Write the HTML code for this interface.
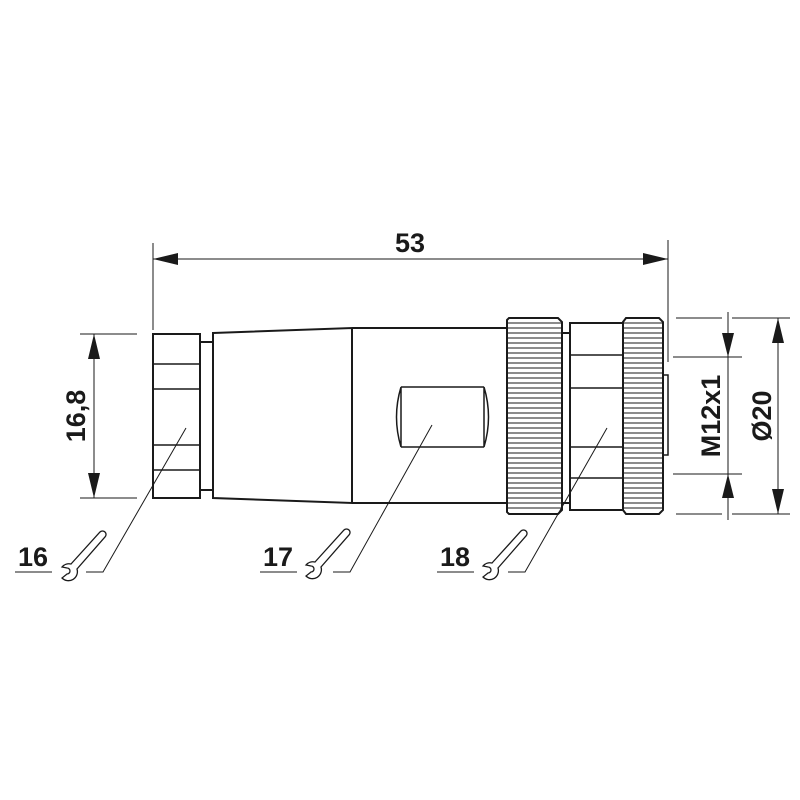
<!DOCTYPE html>
<html><head><style>body{margin:0;background:#fff}svg{display:block}</style></head><body>
<svg width="800" height="800" viewBox="0 0 800 800" xmlns="http://www.w3.org/2000/svg" font-family="Liberation Sans, sans-serif" font-weight="bold">
<defs>
<g id="wr" fill="#fff" stroke="#1a1a1a" stroke-width="1.3">
<path d="M1,-8 L30,-40 A3.5,3.5 0 0 1 35,-35 L7,-3 A9,9 0 0 1 -8,6 L-3,2 A3,3 0 0 0 -3,-4 L-8,-5 A9,9 0 0 1 1,-8 Z"/>
</g>
</defs>
<g fill="none" stroke="#1a1a1a" stroke-width="2">
<rect x="153" y="334" width="47" height="164"/>
<path d="M153,364H200M153,389H200M153,445H200M153,470H200" stroke-width="1.5"/>
<rect x="200" y="342" width="13" height="148"/>
<path d="M213,333 L352,328 L352,503 L213,498 Z"/>
<path d="M352,328 H508 M352,503 H508"/>
<path d="M401,387 H484 M401,447 H484 M401,387 Q392,417 401,447 M484,387 Q493,417 484,447 M401,387 V447 M484,387 V447" stroke-width="1.5"/>
<path d="M507,320 L509,318 H558 L562,322 V510 L558,514 H509 L507,512 Z"/>
<path d="M562,333 H570 M562,503 H570"/>
<rect x="570" y="323" width="53" height="187"/>
<path d="M570,355H623M570,388H623M570,447H623M570,478H623" stroke-width="1.5"/>
<path d="M626,318 H659 L663,322 V510 L659,514 H626 L623,510 V322 Z"/>
<rect x="663" y="375" width="5" height="80" stroke-width="1.5"/>
</g>
<g stroke="#1a1a1a" stroke-width="1.1">
<path d="M508,323H561M508,328H561M508,333H561M508,338H561M508,343H561M508,348H561M508,353H561M508,358H561M508,363H561M508,368H561M508,373H561M508,378H561M508,383H561M508,388H561M508,393H561M508,398H561M508,403H561M508,408H561M508,413H561M508,418H561M508,423H561M508,428H561M508,433H561M508,438H561M508,443H561M508,448H561M508,453H561M508,458H561M508,463H561M508,468H561M508,473H561M508,478H561M508,483H561M508,488H561M508,493H561M508,498H561M508,503H561M508,508H561"/>
<path d="M624,323H662M624,328H662M624,333H662M624,338H662M624,343H662M624,348H662M624,353H662M624,358H662M624,363H662M624,368H662M624,373H662M624,378H662M624,383H662M624,388H662M624,393H662M624,398H662M624,403H662M624,408H662M624,413H662M624,418H662M624,423H662M624,428H662M624,433H662M624,438H662M624,443H662M624,448H662M624,453H662M624,458H662M624,463H662M624,468H662M624,473H662M624,478H662M624,483H662M624,488H662M624,493H662M624,498H662M624,503H662M624,508H662"/>
</g>
<g stroke="#1a1a1a" stroke-width="1" fill="none">
<path d="M153,243V330 M668,240V362 M153,259H668"/>
<path d="M80,334H137 M80,498H137 M94,334V498"/>
<path d="M676,318H722 M732,318H790 M676,514H722 M732,514H790 M673,357H742 M673,474H742 M728,312V520 M778,318V514"/>
<path d="M15,572H52 M86,572H103L186,428 M260,572H297 M333,572H350L432,425 M437,572H474 M508,572H525L607,428"/>
</g>
<g fill="#1a1a1a">
<path d="M153,259 L178,253 L178,265Z M668,259 L643,253 L643,265Z"/>
<path d="M94,334 L88,359 L100,359Z M94,498 L88,473 L100,473Z"/>
<path d="M728,357 L722,333 L734,333Z M728,474 L722,498 L734,498Z"/>
<path d="M778,318 L772,343 L784,343Z M778,514 L772,489 L784,489Z"/>
</g>
<use href="#wr" x="70" y="572"/>
<use href="#wr" x="314" y="570"/>
<use href="#wr" x="491" y="571"/>
<g font-size="27" fill="#1a1a1a">
<text x="410" y="252" text-anchor="middle">53</text>
<text x="33" y="566" text-anchor="middle">16</text>
<text x="278" y="566" text-anchor="middle">17</text>
<text x="455" y="566" text-anchor="middle">18</text>
<text transform="translate(85,416) rotate(-90)" text-anchor="middle">16,8</text>
<text transform="translate(720,416) rotate(-90)" text-anchor="middle">M12x1</text>
<text transform="translate(771,416) rotate(-90)" text-anchor="middle">Ø20</text>
</g>
</svg>
</body></html>
